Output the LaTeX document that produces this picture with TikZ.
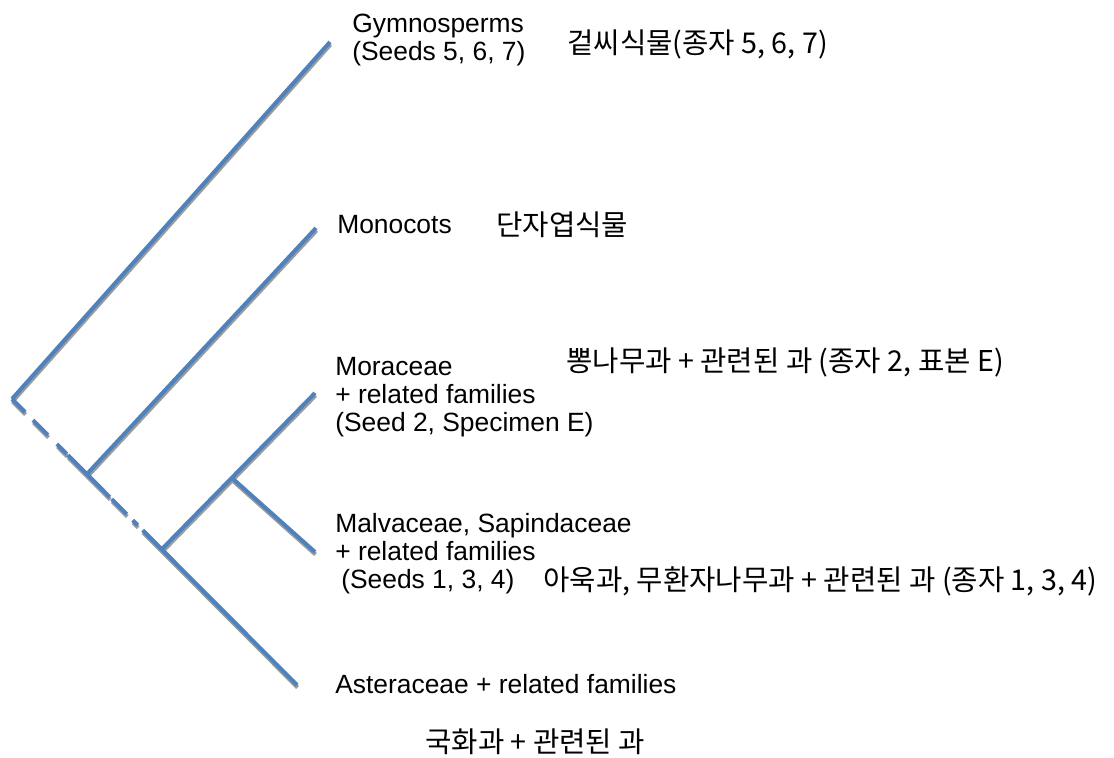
\documentclass[tikz,border=0pt]{standalone}
\usepackage{fontspec}
\setmainfont{Liberation Sans}
\newfontfamily\krfont{Noto Sans CJK KR}
\definecolor{branchblue}{HTML}{4F81BD}
\definecolor{branchshade}{HTML}{9C9C9C}

\begin{document}
\begin{tikzpicture}[x=0.75pt,y=-0.75pt,
  branch/.style={line width=3pt,draw=branchblue},
  shadow/.style={line width=3pt,draw=branchshade},
  rootdash/.style={dash pattern=on 13.8pt off 8.5pt on 15.9pt off 9.5pt on 10.6pt
    off 1.1pt on 44.5pt off 2.1pt on 15.9pt off 6.4pt on 5.3pt off 5.3pt on 320pt},
  taxon/.style={anchor=base west,align=left,inner sep=0pt,
    font=\fontsize{19.8}{21}\selectfont},
  korean/.style={anchor=base west,inner sep=0pt,
    font=\krfont\fontsize{21.5}{24}\selectfont}]
  \useasboundingbox (0,0) rectangle (1114,757);
  \coordinate (root) at (12,399);
  \coordinate (nMono) at (87,474);
  \coordinate (nMor) at (162,549);
  \coordinate (nMal) at (232,478);
  \coordinate (gym) at (330,42);
  \coordinate (mono) at (316,228);
  \coordinate (mor) at (315,393);
  \coordinate (mal) at (315,552);
  \coordinate (ast) at (297,685);
  \begin{scope}[transform canvas={xshift=0.4pt,yshift=-1.9pt}]
    \draw[shadow] (root) -- (gym);
    \draw[shadow,rootdash] (root) -- (ast);
    \draw[shadow] (nMono) -- (mono);
    \draw[shadow] (nMor) -- (mor);
    \draw[shadow] (nMal) -- (mal);
  \end{scope}
  \draw[branch] (root) -- (gym);
  \draw[branch,rootdash] (root) -- (ast);
  \draw[branch] (nMono) -- (mono);
  \draw[branch] (nMor) -- (mor);
  \draw[branch] (nMal) -- (mal);
  \node[taxon] (gymL) at (352,60) {Gymnosperms\\(Seeds 5, 6, 7)};
  \node[korean] (gymK) at (567,53) {겉씨식물(종자 5, 6, 7)};
  \node[taxon] (monoL) at (337,233) {Monocots};
  \node[korean] (monoK) at (496,235) {단자엽식물};
  \node[taxon] (morL) at (335,431)
    {Moraceae\\+ related families\\(Seed 2, Specimen E)};
  \node[korean] (morK) at (566,371) {뽕나무과 + 관련된 과 (종자 2, 표본 E)};
  \node[taxon] (malL) at (335,588)
    {Malvaceae, Sapindaceae\\+ related families\\\hspace*{4.5pt}(Seeds 1, 3, 4)};
  \node[korean] (malK) at (543,590) {아욱과, 무환자나무과 + 관련된 과 (종자 1, 3, 4)};
  \node[taxon] (astL) at (335,693) {Asteraceae + related families};
  \node[korean] (astK) at (425,752) {국화과 + 관련된 과};
\end{tikzpicture}
\end{document}
